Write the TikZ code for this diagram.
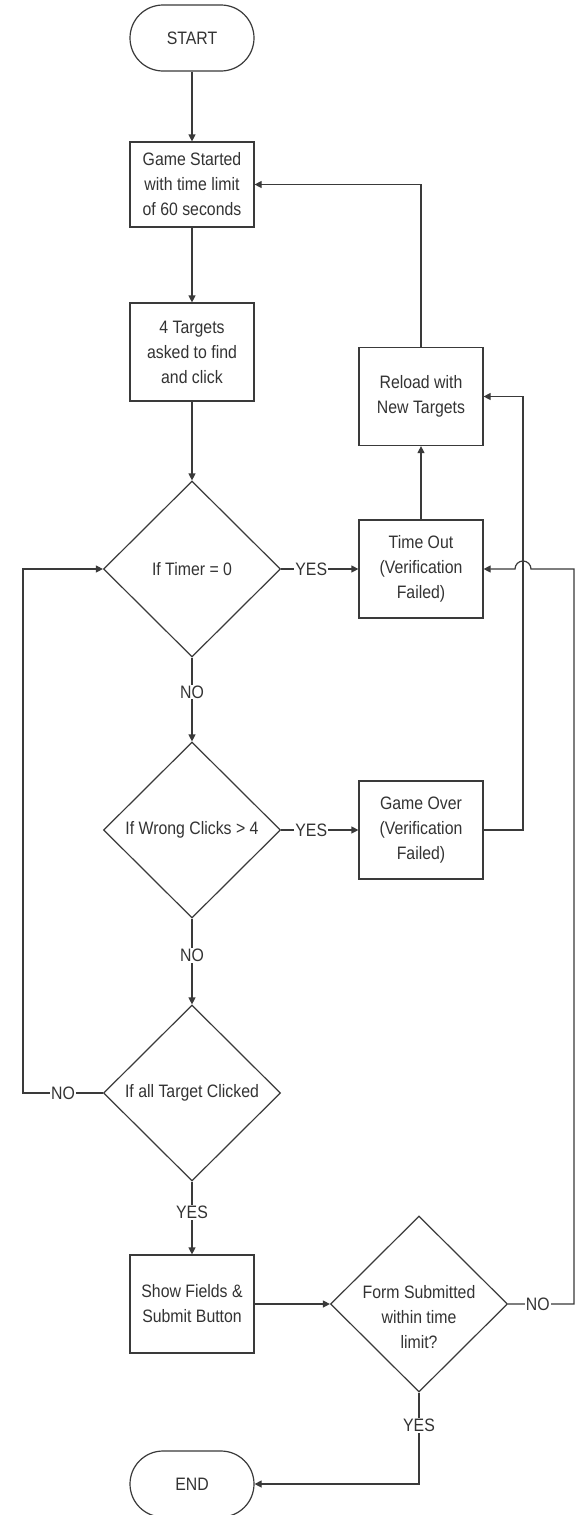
\documentclass[tikz,border=0pt]{standalone}
\usepackage{fontspec}
\setmainfont{Liberation Sans}[FakeStretch=0.88]
\usetikzlibrary{shapes.geometric,shapes.misc,arrows.meta,calc}
\definecolor{ink}{HTML}{3A3A3A}
\definecolor{txt}{HTML}{333333}
\begin{document}
\begin{tikzpicture}[x=1pt,y=-1pt,
  every node/.style={font=\fontsize{18}{25}\selectfont, text=txt},
  box/.style={draw=ink,line width=1.2pt,minimum width=124pt,minimum height=98pt,inner sep=0pt,align=center},
  term/.style={draw=ink,line width=1.2pt,rounded rectangle,minimum width=124pt,minimum height=66pt,inner sep=0pt},
  dec/.style={draw=ink,line width=1.2pt,diamond,minimum width=177pt,minimum height=176pt,inner sep=0pt},
  arr/.style={draw=ink,line width=1.2pt,-{Triangle[length=7pt,width=7pt]}},
  ln/.style={draw=ink,line width=1.2pt},
  lbl/.style={fill=white,inner sep=1pt}]
\fill[white] (0,0) rectangle (581,1515);
\useasboundingbox (0,0) rectangle (581,1515);

% helper columns
\coordinate (xl) at (23,0);
\coordinate (xm) at (523,0);
\coordinate (xr) at (574,0);

% nodes
\node[term] (start) at (192,38) {START};
\node[box,minimum height=85pt] (gs) at (192,184.5) {Game Started\\with time limit\\of 60 seconds};
\node[box] (tg) at (192,352) {4 Targets\\asked to find\\and click};
\node[dec,label={center:If Timer = 0}] (d1) at (192,569) {};
\node[dec,label={center:If Wrong Clicks > 4}] (d2) at (192,830) {};
\node[dec,label={center:If all Target Clicked}] (d3) at (192,1093) {};
\node[box] (sf) at (192,1304) {Show Fields \&\\Submit Button};
\node[dec,label={[align=center,yshift=-13pt]center:Form Submitted\\within time\\limit?}] (fs) at (419,1304) {};
\node[term] (end) at (192,1484) {END};
\node[box] (rl) at (421,396.5) {Reload with\\New Targets};
\node[box] (to) at (421,569) {Time Out\\(Verification\\Failed)};
\node[box] (go) at (421,830) {Game Over\\(Verification\\Failed)};

% connectors
\draw[arr] (start.south) -- (gs.north);
\draw[arr] (gs.south) -- (tg.north);
\draw[arr] (tg.south) -- (d1.north);
\draw[arr] (d1.east) -- node[lbl,pos=0.39]{YES} (to.west);
\draw[arr] (d1.south) -- node[lbl,pos=0.41]{NO} (d2.north);
\draw[arr] (d2.east) -- node[lbl,pos=0.39]{YES} (go.west);
\draw[arr] (d2.south) -- node[lbl,pos=0.43]{NO} (d3.north);
\draw[arr] (d3.south) -- node[lbl,pos=0.42]{YES} (sf.north);
\draw[arr] (d3.west) -- node[lbl,pos=0.5]{NO} (d3.west -| xl) |- (d1.west);
\draw[arr] (sf.east) -- (fs.west);
\draw[arr] (fs.south) -- node[lbl,pos=0.36]{YES} (fs.south |- end.east) -- (end.east);
\draw[arr] (to.north) -- (rl.south);
\draw[arr] (go.east) -- (go.east -| xm) |- (rl.east);
\draw[arr] (rl.north) |- (gs.east);
\draw[arr] (fs.east) -- node[lbl,pos=0.45]{NO} (fs.east -| xr) -- (to.east -| xr)
  -- ($(to.east -| xm)+(8,0)$) arc[start angle=0,end angle=180,radius=8pt] -- (to.east);
\end{tikzpicture}
\end{document}
